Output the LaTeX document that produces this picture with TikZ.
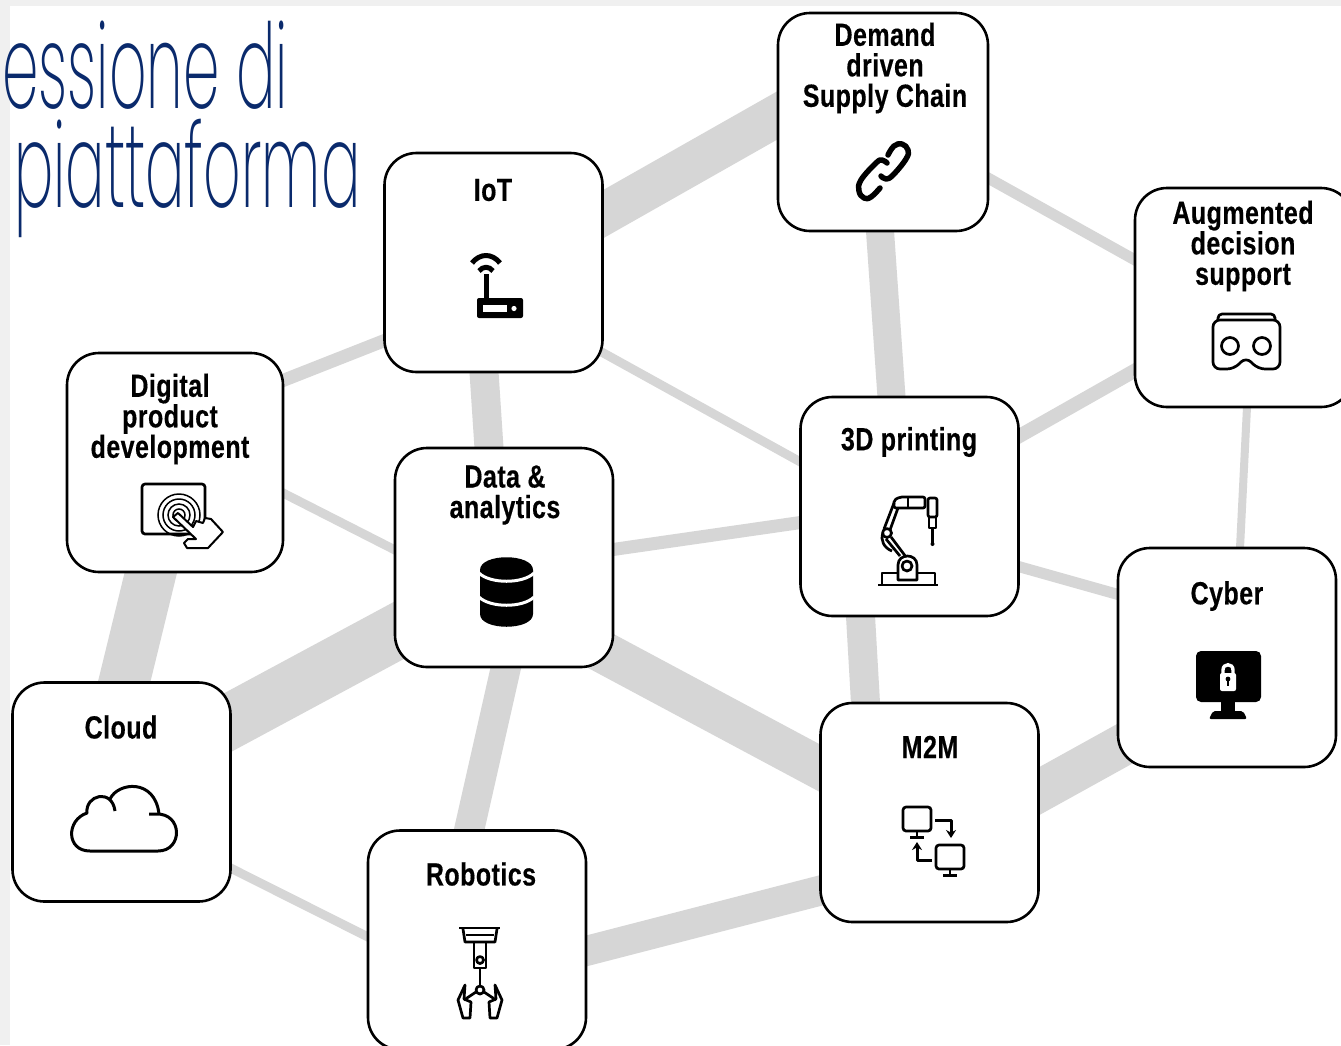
\documentclass[tikz,border=0pt]{standalone}
\usepackage{fontspec}
\usetikzlibrary{calc,backgrounds,arrows.meta}
\newfontfamily\tilefont[FakeStretch=0.78,LetterSpace=1.5,FakeBold=0.4]{Liberation Sans Bold}
\newfontfamily\titlefont[FakeStretch=0.495]{Poppins ExtraLight}
\definecolor{linkgray}{HTML}{D6D6D6}
\definecolor{titleblue}{HTML}{0A2A6C}
\tikzset{
    tile/.style={draw=black,fill=white,line width=2.6pt,rounded corners=32pt,inner sep=0pt,outer sep=0pt,minimum width=218pt,minimum height=219pt},
    tiletext/.style={font=\tilefont\fontsize{32}{30.5}\selectfont,align=center,inner sep=0pt},
    titletext/.style={font=\titlefont\fontsize{118}{118}\selectfont,text=titleblue,inner sep=0pt,anchor=base west},
    link/.style={draw=linkgray,line cap=rect},
    icon/.style={draw=black,line width=2.7pt,line join=round}
}
\begin{document}
\begin{tikzpicture}[x=1pt,y=-1pt]
    \clip (0,0) rectangle (1341,1045);

    \node[titletext] (titlea) at (2,108) {essione di};
    \node[titletext] (titleb) at (14,207) {piattaforma};

    \node[tile,minimum width=210pt,minimum height=218pt] (demand) at (883,122) {};
    \node[tile] (iot) at (493.5,262.5) {};
    \node[tile] (augmented) at (1244,297.5) {};
    \node[tile,minimum width=216pt] (digital) at (175,462.5) {};
    \node[tile] (data) at (504,557.5) {};
    \node[tile] (printing) at (909.5,506.5) {};
    \node[tile] (cyber) at (1227,657.5) {};
    \node[tile] (cloud) at (121.5,792) {};
    \node[tile] (m2m) at (929.5,812.5) {};
    \node[tile] (robotics) at (477,940) {};

    \node[tiletext] (demandtext) at (885,68) {Demand\\driven\\Supply Chain};
    \node[tiletext] (iottext) at (493,190) {IoT};
    \node[tiletext] (augmentedtext) at (1243,246) {Augmented\\decision\\support};
    \node[tiletext] (digitaltext) at (170,419) {Digital\\product\\development};
    \node[tiletext] (datatext) at (505,495) {Data \&\\analytics};
    \node[tiletext] (printingtext) at (909,442) {3D printing};
    \node[tiletext] (cybertext) at (1227,596) {Cyber};
    \node[tiletext] (cloudtext) at (121,727) {Cloud};
    \node[tiletext] (m2mtext) at (930,747) {M2M};
    \node[tiletext] (roboticstext) at (481,874) {Robotics};

    % the grey bands run behind the tiles
    \begin{scope}[on background layer]
        \fill[black!6] (0,0) rectangle (1341,1045);
        \fill[white] (10,6) rectangle (1341,1045);
        \draw[link,line width=42pt] ($(iot.east)+(0,-48)$) -- ($(demand.west)+(0,-7)$);
        \draw[link,line width=11pt] ($(demand.east)+(0,56)$) -- ($(augmented.west)+(0,-37.5)$);
        \draw[link,line width=28pt] ($(demand.south)+(-3,0)$) -- ($(printing.north)+(-18,0)$);
        \draw[link,line width=14pt] ($(printing.east)+(0,-70)$) -- ($(augmented.west)+(0,73)$);
        \draw[link,line width=8pt] ($(augmented.south)+(3,0)$) -- ($(cyber.north)+(13,0)$);
        \draw[link,line width=11pt] ($(printing.east)+(0,60)$) -- ($(cyber.west)+(0,-63)$);
        \draw[link,line width=42pt] ($(m2m.east)+(0,-21)$) -- ($(cyber.west)+(0,90)$);
        \draw[link,line width=29pt] ($(printing.south)+(-49,0)$) -- ($(m2m.north)+(-64,0)$);
        \draw[link,line width=13pt] ($(data.east)+(0,-8)$) -- ($(printing.west)+(0,16)$);
        \draw[link,line width=9pt] ($(iot.east)+(0,90)$) -- ($(printing.west)+(0,-44.5)$);
        \draw[link,line width=29pt] ($(iot.south)+(-9.5,0)$) -- ($(data.north)+(-15,0)$);
        \draw[link,line width=13pt] ($(digital.east)+(0,-82)$) -- ($(iot.west)+(0,78)$);
        \draw[link,line width=9pt] ($(digital.east)+(0,30.5)$) -- ($(data.west)+(0,-7.5)$);
        \draw[link,line width=51pt] ($(digital.south)+(-24,0)$) -- ($(cloud.north)+(2.5,0)$);
        \draw[link,line width=55pt] ($(data.west)+(0,75)$) -- ($(cloud.east)+(0,-71)$);
        \draw[link,line width=30pt] ($(data.south)+(2,0)$) -- ($(robotics.north)+(-8,0)$);
        \draw[link,line width=42pt] ($(data.east)+(0,100)$) -- ($(m2m.west)+(0,-44)$);
        \draw[link,line width=30pt] ($(robotics.east)+(0,11)$) -- ($(m2m.west)+(0,78)$);
        \draw[link,line width=9pt] ($(cloud.east)+(0,76)$) -- ($(robotics.west)+(0,-3)$);
    \end{scope}

    % chain
    \draw[icon,line width=5.5pt,line cap=round] plot[smooth,tension=.7] coordinates {(888,155) (894,146) (902,144) (908,150) (906,159) (893,175) (886,179) (881,176)};
    \draw[icon,line width=5.5pt,line cap=round] plot[smooth,tension=.7] coordinates {(887,163) (882,160) (876,163) (861,180) (859,191) (864,198) (871,197) (880,188)};

    % router
    \draw[icon,line width=5pt] (472,263) .. controls (480,253) and (492,253) .. (500,263);
    \draw[icon,line width=5pt] (479,271) .. controls (483,266) and (489,266) .. (493,271);
    \draw[icon,line width=5pt] (486,274) -- (486,300);
    \fill[black,rounded corners=2pt] (477,298) rectangle (523,318);
    \fill[white] (483,305) rectangle (507,312);
    \fill[white] (514,308.5) circle (2.6);

    % goggles
    \draw[icon,rounded corners=7pt] (1213,340) -- (1213,369) -- (1234,369) -- (1246,357) -- (1258,369) -- (1280,369) -- (1280,320) -- (1213,320) -- cycle;
    \draw[icon,rounded corners=4pt] (1218,320) -- (1218,314) -- (1275,314) -- (1275,320);
    \draw[icon] (1230,346) circle (8.5);
    \draw[icon] (1262,346) circle (8.5);

    % tablet and hand
    \draw[icon,rounded corners=3pt] (142,484) rectangle (205,534);
    \foreach \r in {6,11,16,21}{
        \draw[draw=black,line width=1.5pt] (179,515) circle (\r);
    }
    \draw[icon,fill=white,line width=2pt] (173,517) -- (178,513) -- (193,527) -- (196,521) -- (203,523) -- (205,518) -- (211,519) -- (223,532) -- (208,548) -- (187,548) -- (184,543) -- (188,539) -- (196,539) -- cycle;

    % database
    \fill[black] (480,570) .. controls (480,553) and (533,553) .. (533,570) -- (533,614) .. controls (533,631) and (480,631) .. (480,614) -- cycle;
    \draw[white,line width=3pt] (479,573) .. controls (490,584) and (523,584) .. (534,573);
    \draw[white,line width=3pt] (479,597) .. controls (490,608) and (523,608) .. (534,597);

    % robot arm
    \draw[icon] (878,585) -- (938,585);
    \draw[icon] (882,585) -- (882,573) -- (935,573) -- (935,585);
    \draw[icon,fill=white] (898,580) -- (898,565) .. controls (898,553) and (917,553) .. (917,565) -- (917,580) -- cycle;
    \draw[icon] (907,566) circle (5);
    \draw[icon] (900,556) -- (886,539);
    \draw[icon] (892,551) .. controls (884,548) and (880,540) .. (883,533);
    \draw[icon] (906,557) -- (891,537);
    \draw[icon] (887,533) circle (4.5);
    \draw[icon] (884,529) -- (894,503);
    \draw[icon] (890,530) -- (898,508);
    \draw[icon,rounded corners=2pt] (894,508) -- (894,500) -- (900,497) -- (925,497) -- (925,508) -- cycle;
    \draw[icon] (908,497) -- (908,508);
    \draw[icon,rounded corners=2pt] (928,498) rectangle (937,517);
    \draw[icon] (929,517) rectangle (936,528);
    \draw[icon] (932.5,528) -- (932.5,544);
    \fill[black] (932.5,544) circle (2);

    % monitor with lock
    \fill[black,rounded corners=5pt] (1196,651) rectangle (1261,702);
    \fill[black] (1221,702) rectangle (1235,711);
    \fill[black,rounded corners=2pt] (1209,719) -- (1213,711) -- (1243,711) -- (1247,719) -- cycle;
    \fill[white,rounded corners=2pt] (1220,673) rectangle (1236,691);
    \draw[white,line width=3.4pt] (1223,675) -- (1223,670) .. controls (1223,663) and (1233,663) .. (1233,670) -- (1233,675);
    \fill[black] (1228,679) circle (2.4);
    \draw[black,line width=2pt] (1228,679) -- (1228,686);

    % cloud
    \draw[icon,line width=3pt] (149,814) -- (156,814) .. controls (183,813) and (183,851) .. (158,851) -- (90,851) .. controls (66,851) and (66,820) .. (87,813) .. controls (85,795) and (112,788) .. (115,811);
    \draw[icon,line width=3pt] (110,799) .. controls (118,782) and (155,778) .. (159,814);

    % two monitors
    \draw[icon,rounded corners=3pt] (903,807) rectangle (931,831);
    \draw[icon] (917,831) -- (917,837) (910,837.5) -- (924,837.5);
    \draw[icon,rounded corners=3pt] (936,845) rectangle (964,869);
    \draw[icon] (950,869) -- (950,875) (943,875.5) -- (957,875.5);
    \draw[icon,line width=3pt,-{Stealth[length=8pt,width=10pt]}] (935,820) -- (951,820) -- (951,838);
    \draw[icon,line width=3pt,-{Stealth[length=8pt,width=10pt]}] (932,860) -- (917,860) -- (917,842);

    % gripper
    \draw[icon] (459,928) -- (500,928);
    \draw[icon] (463,929) -- (465,942) -- (495,942) -- (497,929);
    \draw[icon] (466,935) -- (494,935);
    \draw[icon] (474,943) -- (474,968) -- (486,968) -- (486,943);
    \draw[icon] (480,960) circle (3.5);
    \draw[icon] (480,968) -- (480,985);
    \draw[icon] (480,990) circle (4);
    \draw[icon] (476,992) -- (464,1000);
    \draw[icon] (484,992) -- (496,1000);
    \draw[icon,line join=round] (465,985) -- (458,1000) -- (463,1018) -- (470,1018) -- (471,1002) -- (464,999) -- cycle;
    \draw[icon,line join=round] (495,985) -- (502,1000) -- (497,1018) -- (490,1018) -- (489,1002) -- (496,999) -- cycle;
\end{tikzpicture}
\end{document}
